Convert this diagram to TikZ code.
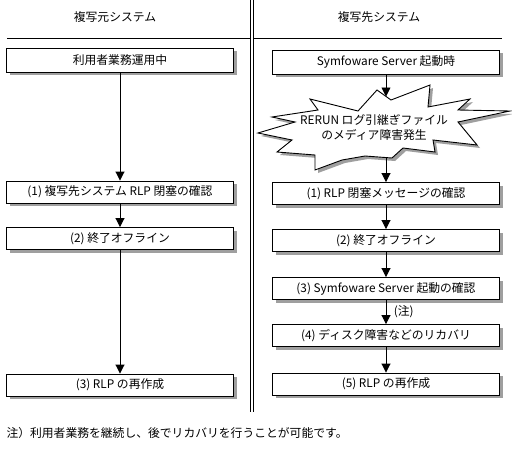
\documentclass[tikz,border=0pt]{standalone}
\usepackage{fontspec}
\setmainfont{Noto Sans CJK JP}
\usetikzlibrary{arrows.meta,shadows}
\tikzset {
  >={Triangle[width=9pt,length=9pt]},
  every node/.style={font=\fontsize{11.8}{15}\selectfont},
  stepbox/.style={draw,fill=white,line width=0.9pt,minimum width=227pt,
    minimum height=22pt,inner sep=0pt,
    drop shadow={shadow xshift=3pt,shadow yshift=-3pt,fill=gray!75,opacity=1}},
  flow/.style={->,line width=0.9pt},
}

\begin{document}
\begin{tikzpicture}[x=1pt,y=-1pt]
          \useasboundingbox (0,0) rectangle (512,453);
          % header and column rules
          \node (hsrc) at (115,17) {複写元システム};
          \node (hdst) at (379,17) {複写先システム};
          \draw[line width=0.9pt] (7,38) -- (250,38);
          \draw[line width=0.9pt] (253,38) -- (502,38);
          \draw[line width=0.8pt] (250.5,0) -- (250.5,412);
          \draw[line width=0.8pt] (253,0) -- (253,412);
          % source side
          \node[stepbox,minimum height=24pt] (s0) at (120,60) {利用者業務運用中};
          \node[stepbox] (s1) at (120,192) {(1)\ 複写先システム RLP 閉塞の確認};
          \node[stepbox] (s2) at (120,238.5) {(2)\ 終了オフライン};
          \node[stepbox] (s3) at (120,385) {(3)\ RLP の再作成};
          \draw[flow] (s0) -- (s1);
          \draw[flow] (s1) -- (s2);
          \draw[flow] (s2) -- (s3);
          % target side
          \node[stepbox,minimum height=24pt] (t0) at (386,62) {Symfoware Server 起動時};
          \def\burstpath{(310,99) -- (358,111) -- (377,90) -- (391,100) -- (430,85)
            -- (428,107) -- (470,99) -- (458,110) -- (510,111) -- (458,122)
            -- (477,145) -- (433,140) -- (435,152) -- (403,148) -- (392,158)
            -- (365,156) -- (342,160) -- (315,170) -- (315,155) -- (277,152)
            -- (292,140) -- (258,133) -- (295,122) -- (272,117) -- (318,110) -- cycle}
          \fill[gray!75,shift={(3,3)}] \burstpath;
          \draw[fill=white,line width=0.9pt] \burstpath;
          \node[align=center,inner sep=0pt] (burst) at (374,128)
            {RERUN ログ引継ぎファイル\\のメディア障害発生};
          \coordinate (btop) at (386,96.5);
          \coordinate (bbot) at (386,157.5);
          \node[stepbox] (t1) at (386,193.5) {(1)\ RLP 閉塞メッセージの確認};
          \node[stepbox] (t2) at (386,240.5) {(2)\ 終了オフライン};
          \node[stepbox] (t3) at (386,288.5) {(3)\ Symfoware Server 起動の確認};
          \node[stepbox] (t4) at (386,335.5) {(4)\ ディスク障害などのリカバリ};
          \node[stepbox] (t5) at (386,384) {(5)\ RLP の再作成};
          \draw[flow] (t0) -- (btop);
          \draw[flow] (bbot) -- (t1);
          \draw[flow] (t1) -- (t2);
          \draw[flow] (t2) -- (t3);
          \draw[flow] (t3) -- node[right=4pt] (note) {(注)} (t4);
          \draw[flow] (t4) -- (t5);
          % footnote
          \node[anchor=west] (foot) at (3,433) {注）利用者業務を継続し、後でリカバリを行うことが可能です。};
        \end{tikzpicture}
\end{document}
